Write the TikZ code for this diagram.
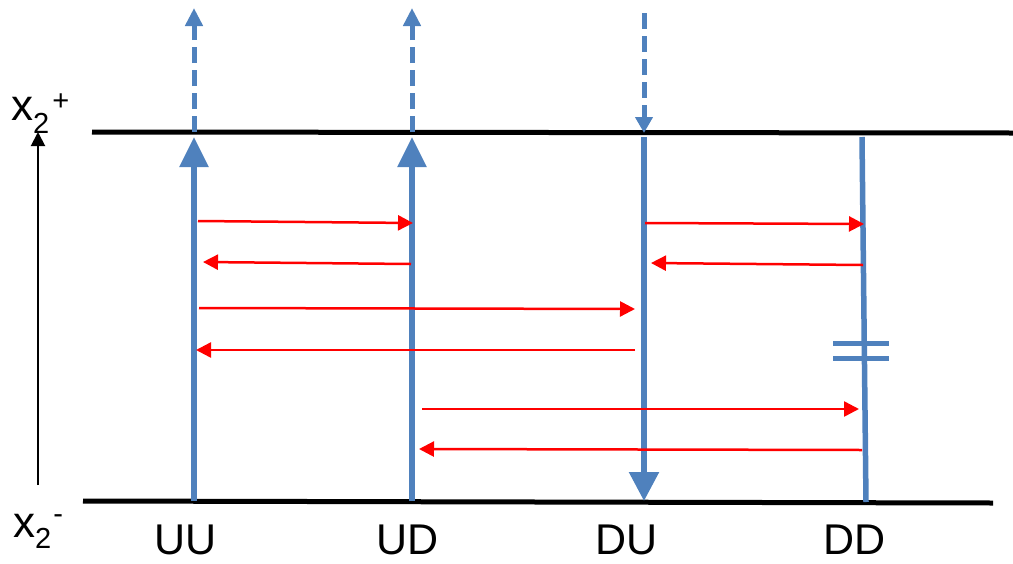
\documentclass[tikz,border=0pt]{standalone}
\usepackage{fontspec}
\setmainfont{Liberation Sans}
\usetikzlibrary{arrows.meta}
\definecolor{lineblue}{RGB}{79,129,189}
\definecolor{arrred}{RGB}{255,0,0}
\begin{document}
\begin{tikzpicture}[x=1pt,y=-1pt,
  level/.style={line width=5pt,black},
  lane/.style={line width=5.5pt,lineblue},
  bigtip/.style={-{Triangle[length=30pt,width=28pt]}},
  dashlane/.style={line width=5pt,lineblue,dash pattern=on 16pt off 7pt},
  smalltip/.style={-{Triangle[length=18pt,width=17pt]}},
  flow/.style={line width=2.5pt,arrred,-{Triangle[length=15pt,width=15pt]}},
  capbar/.style={line width=5pt,lineblue},
  lbl/.style={font=\fontsize{43}{43}\selectfont,inner sep=0pt,anchor=base},
  axisline/.style={line width=2pt,black,-{Triangle[length=14pt,width=14pt]}}]
\useasboundingbox (0,0) rectangle (1013,563);

% level lines
\coordinate (topL) at (92,132);
\coordinate (topR) at (1013,133);
\coordinate (botL) at (83,501);
\coordinate (botR) at (993,503);
\draw[level] (topL) -- (topR);
\draw[level] (botL) -- (botR);

% axis
\coordinate (axb) at (38,485);
\coordinate (axt) at (38,132);
\draw[axisline] (axb) -- (axt);
\node[inner sep=0pt,anchor=base west,font=\fontsize{44}{44}\selectfont] (xplus) at (11,120)
  {x\raisebox{-13pt}{\fontsize{29}{29}\selectfont 2}\kern3pt\raisebox{10pt}{\fontsize{29}{29}\selectfont +}};
\node[inner sep=0pt,anchor=base west,font=\fontsize{44}{44}\selectfont] (xminus) at (13,537)
  {x\raisebox{-11pt}{\fontsize{29}{29}\selectfont 2}\kern2pt\raisebox{14pt}{\fontsize{29}{29}\selectfont -}};

% lanes
\coordinate (UUb) at (194,501);
\coordinate (UUt) at (194,137);
\coordinate (UUd0) at (194,132);
\coordinate (UUd1) at (194,8);
\coordinate (UDb) at (412,501);
\coordinate (UDt) at (412,137);
\coordinate (UDd0) at (412,132);
\coordinate (UDd1) at (412,8);
\coordinate (DUd0) at (644,13);
\coordinate (DUd1) at (644,133);
\coordinate (DUt) at (644,137);
\coordinate (DUb) at (644,501);
\coordinate (DDt) at (862,137);
\coordinate (DDb) at (866,502);

\draw[lane,bigtip] (UUb) -- (UUt);
\draw[dashlane,smalltip] (UUd0) -- (UUd1);
\draw[lane,bigtip] (UDb) -- (UDt);
\draw[dashlane,smalltip] (UDd0) -- (UDd1);
\draw[dashlane,-{Triangle[length=16pt,width=17pt]}] (DUd0) -- (DUd1);
\draw[lane,-{Triangle[length=29pt,width=29pt]}] (DUt) -- (DUb);
\draw[lane] (DDt) -- (DDb);

% capacitor bars on DD
\coordinate (c1l) at (833,343);
\coordinate (c1r) at (889,343);
\coordinate (c2l) at (833,358);
\coordinate (c2r) at (889,358);
\draw[capbar] (c1l) -- (c1r);
\draw[capbar] (c2l) -- (c2r);

% red transfer arrows
\coordinate (a1s) at (198,221); \coordinate (a1e) at (413,223);
\coordinate (a2s) at (411,264); \coordinate (a2e) at (203,262);
\coordinate (a3s) at (199,308); \coordinate (a3e) at (635,309);
\coordinate (a4s) at (635,350); \coordinate (a4e) at (196,350);
\coordinate (a5s) at (645,223); \coordinate (a5e) at (864,224);
\coordinate (a6s) at (863,265); \coordinate (a6e) at (651,263);
\coordinate (a7s) at (422,409); \coordinate (a7e) at (859,409);
\coordinate (a8s) at (862,450); \coordinate (a8e) at (419,449);
\foreach \i in {1,...,8} { \draw[flow] (a\i s) -- (a\i e); }

% lane labels
\node[lbl] (lUU) at (186,554) {UU};
\node[lbl] (lUD) at (408,554) {UD};
\node[lbl] (lDU) at (627,554) {DU};
\node[lbl] (lDD) at (855,554) {DD};
\end{tikzpicture}
\end{document}
